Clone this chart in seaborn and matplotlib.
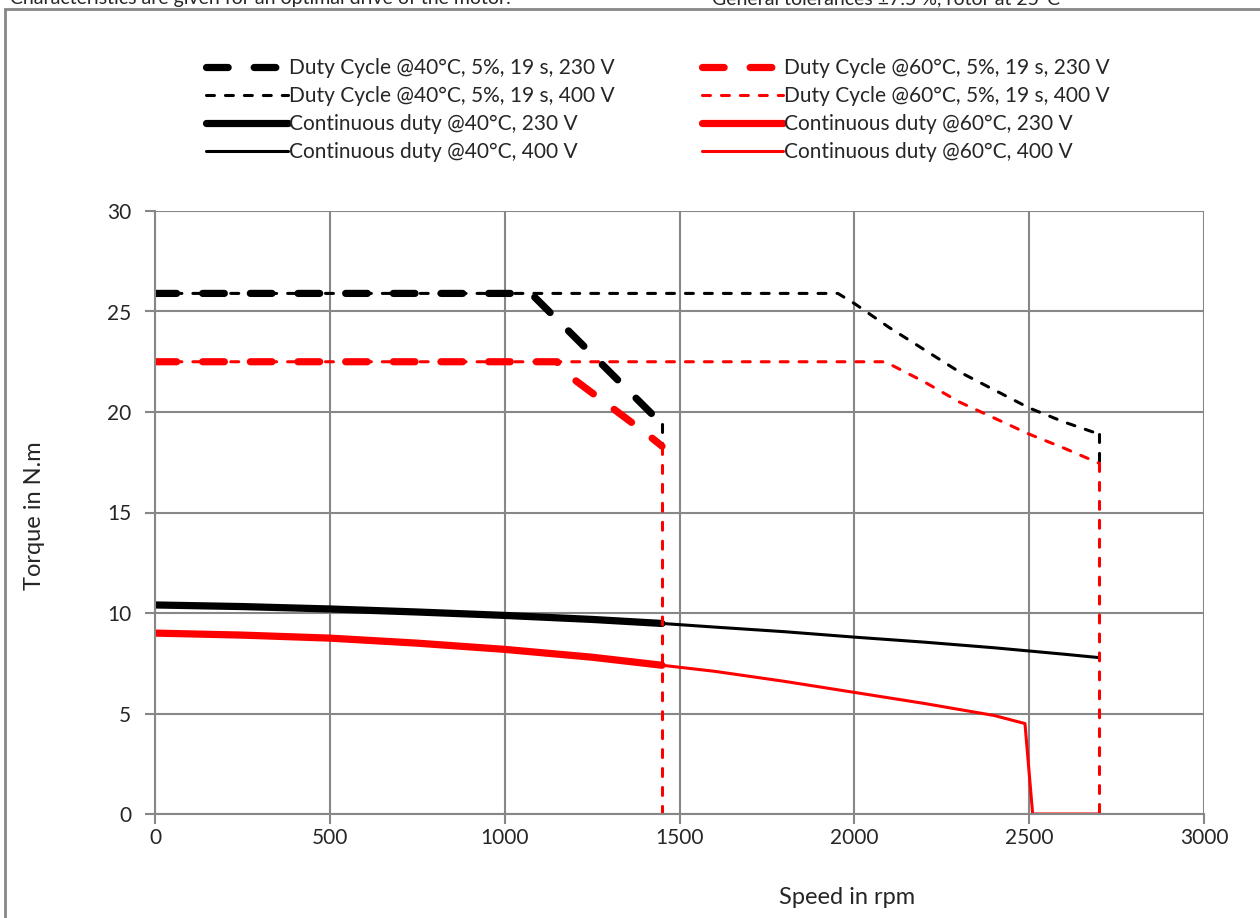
import matplotlib
matplotlib.use("Agg")
import matplotlib.pyplot as plt
import matplotlib.patches as mpatches
import seaborn as sns

# speed (rpm) / torque (N.m)
duty40_230_x = [0, 1075, 1450]
duty40_230_y = [25.9, 25.9, 19.4]
duty40_400_x = [0, 1953, 2000, 2100, 2200, 2300, 2400, 2500, 2600, 2700]
duty40_400_y = [25.9, 25.9, 25.4, 24.2, 23.1, 22.0, 21.1, 20.2, 19.5, 18.9]
duty60_230_x = [0, 1150, 1200, 1300, 1400, 1450]
duty60_230_y = [22.5, 22.5, 21.6, 20.3, 19.0, 18.3]
duty60_400_x = [0, 2088, 2200, 2300, 2400, 2500, 2600, 2700]
duty60_400_y = [22.5, 22.5, 21.5, 20.5, 19.7, 18.9, 18.2, 17.45]

cont40_230_x = [0, 250, 500, 750, 1000, 1250, 1450]
cont40_230_y = [10.4, 10.32, 10.2, 10.05, 9.88, 9.68, 9.48]
cont40_400_x = [0, 250, 500, 750, 1000, 1250, 1450, 1600, 1800, 2000, 2200, 2400, 2500, 2600, 2700]
cont40_400_y = [10.4, 10.32, 10.2, 10.05, 9.88, 9.68, 9.48, 9.3, 9.07, 8.8, 8.55, 8.27, 8.11, 7.95, 7.78]
cont60_230_x = [0, 250, 500, 750, 1000, 1250, 1450]
cont60_230_y = [9.0, 8.9, 8.75, 8.5, 8.19, 7.8, 7.4]
cont60_400_x = [0, 250, 500, 750, 1000, 1250, 1450, 1600, 1800, 2000, 2200, 2400, 2488, 2510, 2700]
cont60_400_y = [9.0, 8.9, 8.75, 8.5, 8.19, 7.8, 7.4, 7.1, 6.6, 6.05, 5.5, 4.9, 4.5, 0, 0]

# vertical cut-off at the end of the duty cycle curves
drop40_230_x = [1450, 1450]
drop40_230_y = [19.4, 18.3]
drop60_230_x = [1450, 1450]
drop60_230_y = [18.3, 0]
drop40_400_x = [2700, 2700]
drop40_400_y = [18.9, 17.45]
drop60_400_x = [2700, 2700]
drop60_400_y = [17.45, 0]

labels = [
    "Duty Cycle @40°C, 5%, 19 s, 230 V",
    "Duty Cycle @40°C, 5%, 19 s, 400 V",
    "Continuous duty @40°C, 230 V",
    "Continuous duty @40°C, 400 V",
    "Duty Cycle @60°C, 5%, 19 s, 230 V",
    "Duty Cycle @60°C, 5%, 19 s, 400 V",
    "Continuous duty @60°C, 230 V",
    "Continuous duty @60°C, 400 V",
]

sns.set_style("white")
plt.rcParams["font.family"] = ["Lato", "DejaVu Sans"]

fig = plt.figure(figsize=(12.6, 9.18), dpi=100)
ax = fig.add_axes([155 / 1260, 1 - 814 / 918, (1204 - 155) / 1260, (814 - 211) / 918])

RED = "#ff0000"
BLK = "#000000"
thick_dash = (3.0, 3.6)
thin_dash = (2.6, 3.6)

def draw(x, y, color, lw, dash=None, label="_nolegend_"):
    sns.lineplot(x=x, y=y, color=color, linewidth=lw, sort=False,
                 estimator=None, label=label, ax=ax)
    line = ax.lines[-1]
    line.set_solid_capstyle("round")
    line.set_dash_capstyle("round")
    line.set_solid_joinstyle("round")
    if dash is not None:
        line.set_dashes(dash)
    return line

h = {}
h[labels[3]] = draw(cont40_400_x, cont40_400_y, BLK, 2.2, label=labels[3])
h[labels[2]] = draw(cont40_230_x, cont40_230_y, BLK, 5.2, label=labels[2])
h[labels[7]] = draw(cont60_400_x, cont60_400_y, RED, 2.2, label=labels[7])
h[labels[6]] = draw(cont60_230_x, cont60_230_y, RED, 5.2, label=labels[6])
h[labels[1]] = draw(duty40_400_x, duty40_400_y, BLK, 2.2, thin_dash, labels[1])
draw(drop40_400_x, drop40_400_y, BLK, 2.2, thin_dash)
draw(drop40_230_x, drop40_230_y, BLK, 2.2, thin_dash)
h[labels[0]] = draw(duty40_230_x, duty40_230_y, BLK, 5.2, thick_dash, labels[0])
h[labels[5]] = draw(duty60_400_x, duty60_400_y, RED, 2.2, thin_dash, labels[5])
draw(drop60_400_x, drop60_400_y, RED, 2.2, thin_dash)
draw(drop60_230_x, drop60_230_y, RED, 2.2, thin_dash)
h[labels[4]] = draw(duty60_230_x, duty60_230_y, RED, 5.2, thick_dash, labels[4])
ax.get_legend().remove()

ax.set_xlim(0, 3000)
ax.set_ylim(0, 30)
ax.set_xticks(range(0, 3001, 500))
ax.set_yticks(range(0, 31, 5))
ax.grid(True, color="#878787", linewidth=1.5)
ax.set_axisbelow(True)
for side in ["left", "bottom"]:
    ax.spines[side].set_color("#878787")
    ax.spines[side].set_linewidth(1.5)
for side in ["top", "right"]:
    ax.spines[side].set_visible(False)
ax.tick_params(axis="both", which="both", length=7, width=1.5, color="#878787",
               labelsize=15, direction="out", bottom=True, left=True)
ax.tick_params(axis="x", pad=3)
ax.tick_params(axis="y", pad=10)
ax.set_xlabel("Speed in rpm", fontsize=17)
ax.set_ylabel("Torque in N.m", fontsize=17)
ax.xaxis.set_label_coords((847 - 155) / 1049, (814 - 897) / 603)
ax.yaxis.set_label_coords((35 - 155) / 1049, 0.495)
ax.xaxis.label.set_va("center")
ax.yaxis.label.set_va("center")

fig.legend([h[l] for l in labels], labels, ncol=2, loc="upper left",
           bbox_to_anchor=(198 / 1260, 1 - 50 / 918), frameon=False,
           fontsize=15, handlelength=3.9, handletextpad=0.05,
           columnspacing=4.2, labelspacing=0.38, borderaxespad=0)

# outer frame of the datasheet block and clipped header line above it
fig.patches.append(mpatches.Rectangle((5 / 1260, -0.05), 1.2, 1 - 9 / 918 + 0.05,
                                      transform=fig.transFigure, fill=False,
                                      edgecolor="#878787", linewidth=2))
fig.text(10 / 1260, 1 - 4 / 918, "Characteristics are given for an optimal drive of the motor.",
         fontsize=14, va="baseline")
fig.text(712 / 1260, 1 - 4 / 918, "General tolerances ±7.5 %, rotor at 25°C",
         fontsize=14, va="baseline")

fig.savefig("out.png", dpi=100)
